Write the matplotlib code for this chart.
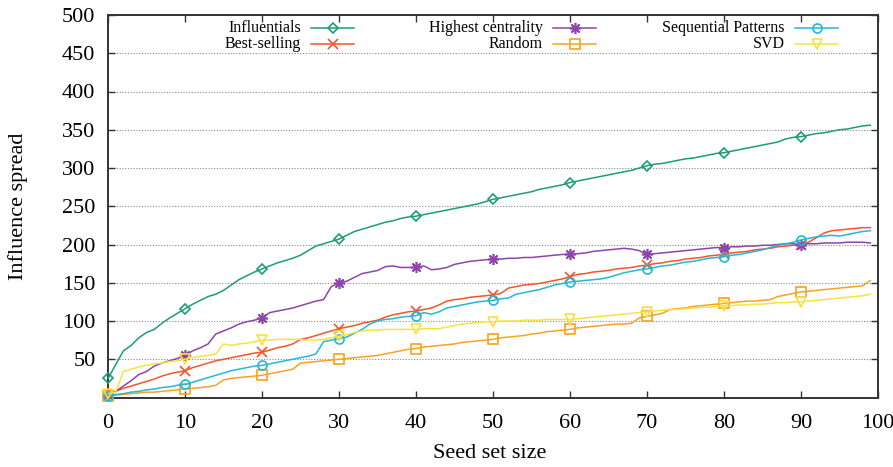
import matplotlib
matplotlib.use("Agg")
import matplotlib.pyplot as plt
from matplotlib.lines import Line2D
import numpy as np

plt.rcParams["font.family"] = ["Liberation Serif", "DejaVu Serif"]

seed_size = list(range(100))

influentials = [25, 43, 61, 68, 78, 85, 89, 97, 104, 110,
                116, 122, 127, 132, 135, 140, 147, 154, 159, 164,
                168, 172, 176, 179, 182, 186, 192, 198, 201, 204,
                207, 212, 217, 220, 223, 226, 229, 231, 234, 236,
                237, 239, 241, 243, 245, 247, 249, 251, 253, 256,
                259, 261, 263, 265, 267, 269, 272, 274, 276, 278,
                281, 283, 285, 287, 289, 291, 293, 295, 297, 300,
                303, 305, 306, 308, 310, 312, 313, 315, 317, 319,
                320, 322, 324, 326, 328, 330, 332, 334, 338, 340,
                341, 343, 345, 346, 348, 350, 351, 353, 355, 356]

best_selling = [3, 8, 12, 15, 18, 21, 24, 28, 31, 33,
                35, 39, 42, 45, 48, 50, 52, 54, 56, 58,
                59, 62, 65, 67, 70, 76, 78, 81, 84, 87,
                90, 92, 94, 97, 99, 101, 105, 108, 110, 112,
                113, 115, 117, 121, 126, 128, 129, 131, 132, 133,
                134, 136, 143, 145, 147, 148, 149, 151, 153, 155,
                158, 161, 162, 164, 165, 166, 168, 169, 170, 172,
                173, 175, 176, 178, 179, 181, 182, 183, 185, 186,
                187, 189, 190, 191, 193, 194, 195, 197, 198, 199,
                200, 203, 209, 215, 218, 219, 220, 221, 222, 222]

highest_centrality = [3, 8, 15, 22, 30, 34, 41, 45, 48, 51,
                      55, 61, 65, 70, 83, 87, 91, 96, 99, 101,
                      104, 111, 113, 115, 117, 120, 123, 126, 128, 145,
                      150, 152, 157, 162, 164, 166, 171, 172, 170, 170,
                      170, 172, 167, 168, 170, 174, 176, 178, 179, 180,
                      181, 181, 182, 182, 183, 183, 184, 185, 186, 187,
                      187, 188, 189, 191, 192, 193, 194, 195, 194, 192,
                      187, 188, 189, 190, 191, 192, 193, 194, 195, 196,
                      196, 197, 197, 198, 198, 199, 199, 200, 201, 201,
                      200, 201, 201, 202, 202, 202, 203, 203, 203, 202]

random_pick = [2, 3, 4, 5, 6, 7, 7, 8, 9, 10,
               11, 12, 13, 14, 16, 23, 25, 26, 27, 28,
               29, 31, 33, 35, 37, 45, 46, 47, 48, 49,
               50, 51, 52, 53, 54, 55, 57, 59, 61, 63,
               64, 66, 67, 68, 69, 70, 72, 73, 74, 75,
               76, 78, 79, 80, 81, 83, 84, 86, 87, 88,
               89, 91, 92, 93, 94, 95, 96, 96, 97, 104,
               106, 108, 110, 115, 116, 117, 119, 120, 121, 122,
               123, 124, 125, 126, 126, 127, 128, 132, 134, 136,
               138, 139, 140, 141, 142, 143, 144, 145, 146, 153]

sequential_patterns = [2, 4, 5, 7, 8, 10, 11, 13, 14, 16,
                       17, 20, 23, 26, 29, 32, 35, 37, 39, 41,
                       42, 44, 46, 48, 50, 52, 54, 57, 73, 75,
                       77, 79, 84, 89, 96, 100, 102, 103, 105, 106,
                       107, 111, 109, 112, 117, 119, 121, 123, 125, 126,
                       127, 129, 130, 135, 137, 139, 141, 144, 147, 149,
                       151, 152, 153, 154, 155, 157, 160, 163, 165, 167,
                       168, 170, 172, 173, 175, 177, 178, 180, 182, 183,
                       184, 186, 187, 189, 191, 193, 196, 199, 201, 203,
                       206, 208, 210, 211, 212, 211, 213, 215, 217, 218]

svd = [5, 7, 34, 37, 40, 42, 44, 45, 47, 48,
       50, 52, 54, 55, 57, 70, 68, 70, 71, 73,
       75, 75, 76, 76, 76, 76, 75, 75, 76, 78,
       80, 82, 85, 87, 88, 88, 89, 89, 89, 89,
       89, 90, 90, 90, 92, 94, 96, 97, 98, 99,
       99, 100, 100, 100, 101, 101, 101, 102, 102, 102,
       102, 103, 104, 105, 106, 107, 108, 109, 110, 111,
       112, 113, 114, 115, 115, 116, 117, 118, 118, 119,
       120, 120, 121, 121, 122, 122, 123, 124, 124, 125,
       125, 126, 127, 128, 129, 130, 131, 132, 133, 135]

# label, values, colour, marker, marker size
series = [
    ("Influentials", influentials, "#1b9e77", "D", 5.5),
    ("Best-selling", best_selling, "#f4552a", "x", 6.5),
    ("Highest centrality", highest_centrality, "#8e44ad", (8, 2, 0), 8),
    ("Random", random_pick, "#f9a21f", "s", 6.5),
    ("Sequential Patterns", sequential_patterns, "#22b8d8", "o", 6.5),
    ("SVD", svd, "#f7e23e", "v", 6.5),
]

W, H = 893, 467
fig = plt.figure(figsize=(W / 100, H / 100), dpi=100)
ax = fig.add_axes([108 / W, 1 - 397.5 / H, 770 / W, 382.5 / H])

for label, vals, col, mk, ms in series:
    ax.plot(seed_size, vals, color=col, lw=1.1, marker=mk, ms=ms,
            mfc="none", mec=col, mew=1.2, markevery=10, zorder=3,
            clip_on=False)

ax.set_xlim(0, 100)
ax.set_ylim(0, 500)
ax.set_xticks(np.arange(0, 101, 10))
ax.set_yticks(np.arange(50, 501, 50))
ax.tick_params(direction="in", top=True, right=True, length=5, width=1,
               labelsize=16, color="#333333")
ax.tick_params(axis="x", pad=12)
ax.tick_params(axis="y", pad=9)
ax.yaxis.grid(True, linestyle=(0, (1, 1.5)), color="#888888", lw=0.8)
ax.set_axisbelow(True)
for sp in ax.spines.values():
    sp.set_linewidth(1.4)
    sp.set_color("#333333")

fig.text(490 / W, 1 - 454 / H, "Seed set size", ha="center", va="center",
         fontsize=16)
fig.text(18 / W, 1 - 206 / H, "Influence spread", ha="center", va="center",
         rotation=90, fontsize=16)

# key in three columns, text right-justified with the sample to its right
text_right = [301, 543, 785]
row_y = [28, 43.5]
for i, (label, vals, col, mk, ms) in enumerate(series):
    c, r = divmod(i, 2)
    xr = text_right[c]
    yy = 1 - row_y[r] / H
    fig.text(xr / W, yy, label, ha="right", va="center", fontsize=11.5)
    x0, x1 = (xr + 10) / W, (xr + 53) / W
    fig.add_artist(Line2D([x0, x1], [yy, yy], color=col, lw=1.1,
                          transform=fig.transFigure))
    fig.add_artist(Line2D([(x0 + x1) / 2], [yy], color=col, marker=mk,
                          ms=ms, mfc="none", mec=col, mew=1.2,
                          transform=fig.transFigure))

fig.savefig("out.png", dpi=100)
